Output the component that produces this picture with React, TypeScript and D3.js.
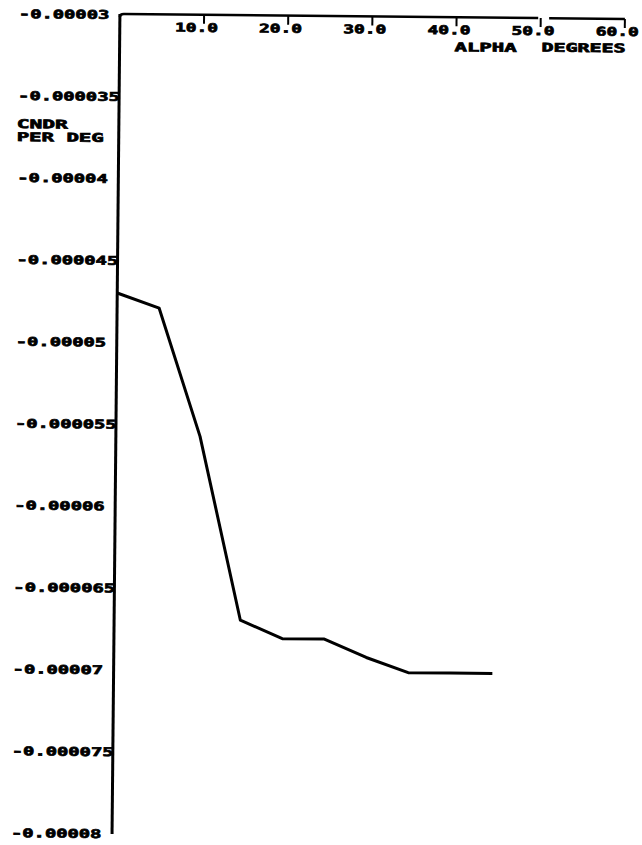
import React from "react";
import * as d3 from "d3";

const alphaDeg = [0, 5, 10, 15, 20, 25, 30, 35, 40, 45];
const cndrValues = [-4.70e-5, -4.79e-5, -5.57e-5, -6.69e-5, -6.80e-5, -6.80e-5, -6.91e-5, -7.0e-5, -7.0e-5, -7.0e-5];
const yTickValues = [-3e-5, -3.5e-5, -4e-5, -4.5e-5, -5e-5, -5.5e-5, -6e-5, -6.5e-5, -7e-5, -7.5e-5, -8e-5];
const yTickLabels = ["-0.00003", "-0.000035", "-0.00004", "-0.000045", "-0.00005", "-0.000055", "-0.00006", "-0.000065", "-0.00007", "-0.000075", "-0.00008"];
const xTickValues = [10, 20, 30, 40, 50, 60];
const xTickLabels = ["10.0", "20.0", "30.0", "40.0", "50.0", "60.0"];
const yTitle = ["CNDR", "PER DEG"];
const xTitle = ["ALPHA", "DEGREES"];

const W = 642;
const H = 845;
const FONT = "'DejaVu Sans Mono', monospace";

export default function App() {
  const x = d3.scaleLinear().domain([0, 60]).range([116, 621]);
  const y = d3.scaleLinear().domain([-3e-5, -8e-5]).range([16.5, 835.6]);
  const axisX = x(0);
  const axisTop = 16;
  const axisBottom = 836;

  const line = d3
    .line<number>()
    .x((_, i) => x(alphaDeg[i]))
    .y((d) => y(d));

  const charW = 11.3;
  const textStroke = { stroke: "#000", strokeWidth: 0.7 };

  return (
    <svg
      width={W}
      height={H}
      style={{ position: "fixed", top: 0, left: 0, background: "#fff" }}
    >
      <rect width={W} height={H} fill="#fff" />
      <g transform={`rotate(0.55 321 423)`} fill="#000" fontFamily={FONT} fontWeight="bold">
        {/* vertical axis */}
        <line x1={axisX} y1={axisTop} x2={axisX} y2={axisBottom} stroke="#000" strokeWidth={3} />
        {/* top axis, with small gap near 50 */}
        <path
          d={`M${axisX},${axisTop + 3} Q${axisX},${axisTop} ${axisX + 4},${axisTop} L${x(49.7)},${axisTop}`}
          fill="none"
          stroke="#000"
          strokeWidth={2.5}
        />
        <line x1={x(51)} y1={axisTop} x2={x(60)} y2={axisTop} stroke="#000" strokeWidth={2.5} />
        {/* top axis ticks */}
        {xTickValues.map((v) => (
          <line key={v} x1={x(v)} y1={axisTop} x2={x(v)} y2={axisTop + 9} stroke="#000" strokeWidth={2} />
        ))}
        {/* x tick labels */}
        {xTickLabels.map((t, i) => (
          <text
            key={t}
            x={x(xTickValues[i]) - 29}
            y={33}
            fontSize={12}
            textLength={43}
            lengthAdjust="spacingAndGlyphs"
            {...textStroke}
          >
            {t}
          </text>
        ))}
        {/* x title */}
        <text x={451} y={50} fontSize={12} textLength={62} lengthAdjust="spacingAndGlyphs" {...textStroke}>
          {xTitle[0]}
        </text>
        <text x={538} y={49.5} fontSize={12} textLength={84} lengthAdjust="spacingAndGlyphs" {...textStroke}>
          {xTitle[1]}
        </text>
        {/* y tick labels */}
        {yTickLabels.map((t, i) => (
          <text
            key={t}
            x={15}
            y={y(yTickValues[i]) + 4.5}
            fontSize={12}
            textLength={t.length * charW}
            lengthAdjust="spacingAndGlyphs"
            {...textStroke}
          >
            {t}
          </text>
        ))}
        {/* y title */}
        <text x={14} y={131} fontSize={12} textLength={51} lengthAdjust="spacingAndGlyphs" {...textStroke}>
          {yTitle[0]}
        </text>
        <text x={14} y={144} fontSize={12} textLength={87} lengthAdjust="spacingAndGlyphs" {...textStroke}>
          {yTitle[1]}
        </text>
        {/* data line */}
        <path d={line(cndrValues) || ""} fill="none" stroke="#000" strokeWidth={3} strokeLinejoin="round" />
      </g>
    </svg>
  );
}
